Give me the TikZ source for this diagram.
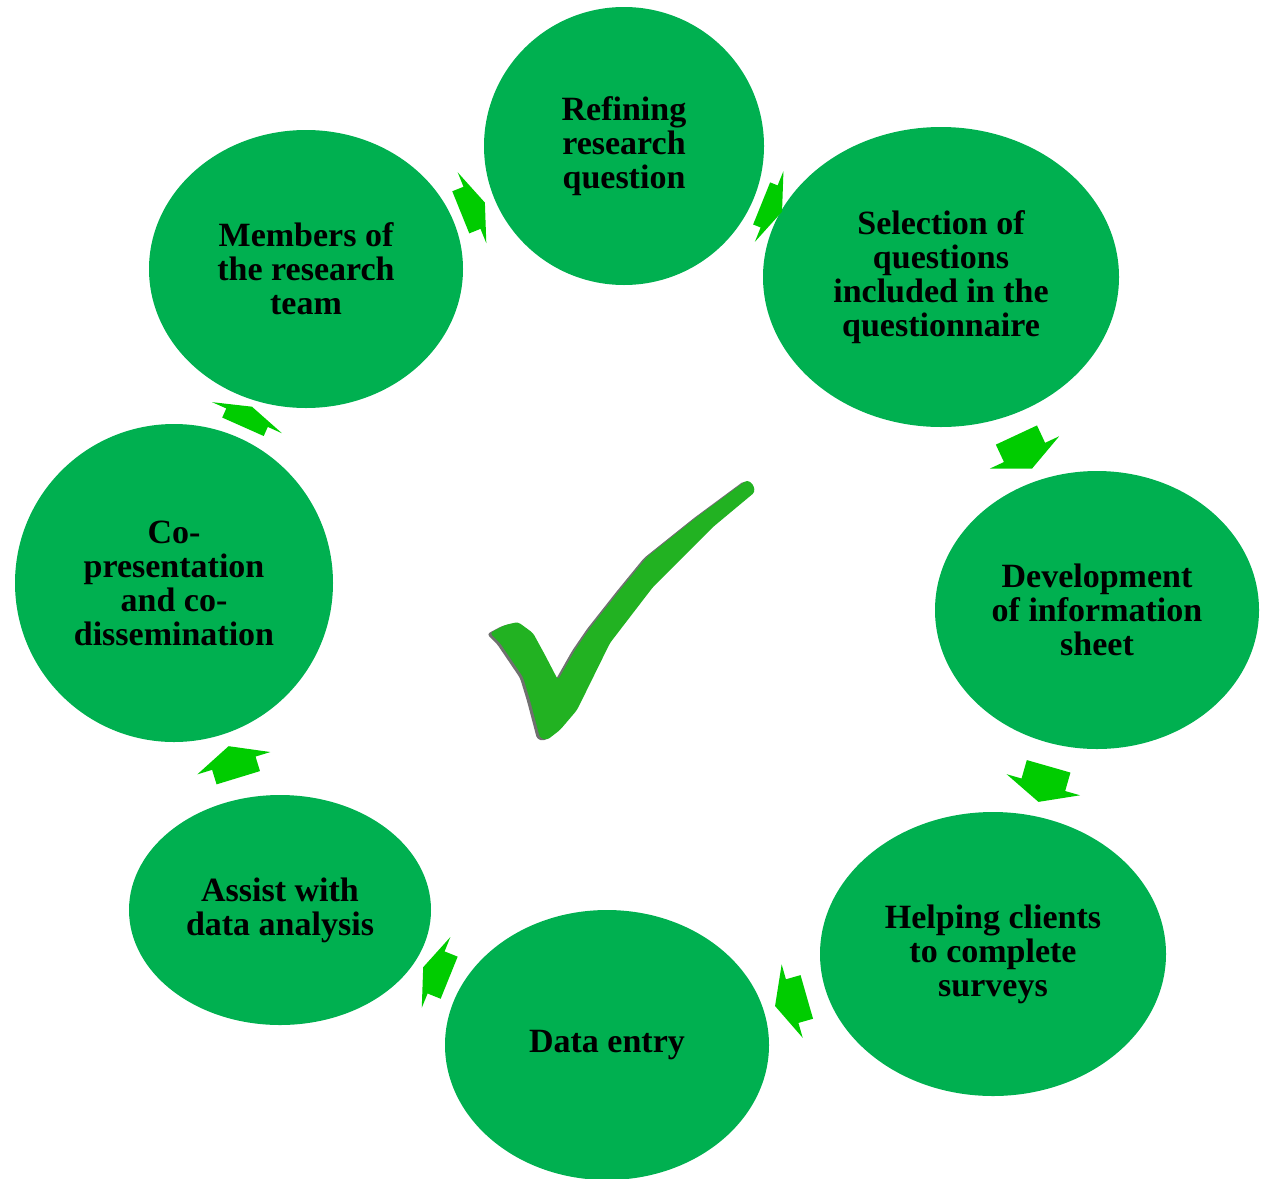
\documentclass[tikz,border=0pt]{standalone}
\usepackage{fontspec}
\setmainfont{Liberation Serif}
\usetikzlibrary{shapes.geometric, shapes.arrows}

\definecolor{stagegreen}{RGB}{0,176,80}
\definecolor{flowgreen}{RGB}{0,204,0}
\definecolor{tickgreen}{RGB}{34,178,34}

\begin{document}
\begin{tikzpicture}[
  x=1pt, y=-1pt,
  stage/.style={ellipse, fill=stagegreen, inner sep=0pt, align=center,
                font=\fontsize{34}{34}\selectfont\bfseries},
  flow/.style={single arrow, fill=flowgreen, inner sep=0pt, text height=45pt,
               text depth=0pt, minimum width=76pt,
               single arrow head extend=15.5pt, single arrow tip angle=130}
]
\useasboundingbox (0,0) rectangle (1268,1178);

% stages of the cycle
\node[stage, minimum width=280pt, minimum height=278pt] (refine) at (624,146) {Refining\\research\\question};
\node[stage, minimum width=356pt, minimum height=300pt] (select) at (941,277) {Selection of\\questions\\included in the\\questionnaire};
\node[stage, minimum width=324pt, minimum height=278pt] (sheet) at (1097,610) {Development\\of information\\sheet};
\node[stage, minimum width=346pt, minimum height=284pt] (help) at (993,954) {Helping clients\\to complete\\surveys};
\node[stage, minimum width=324pt, minimum height=270pt] (entry) at (607,1045) {Data entry};
\node[stage, minimum width=302pt, minimum height=230pt] (assist) at (280,910) {Assist with\\data analysis};
\node[stage, minimum width=318pt, minimum height=318pt] (copres) at (174,583) {Co-\\presentation\\and co-\\dissemination};
\node[stage, minimum width=314pt, minimum height=278pt] (members) at (306,269) {Members of\\the research\\team};

% block arrows between stages
\node[flow, minimum height=26pt, rotate=22, single arrow tip angle=140] (a1) at (469,209) {};
\node[flow, minimum height=22pt, rotate=-22, minimum width=74pt, single arrow tip angle=140] (a2) at (768,206) {};
\node[flow, minimum height=37pt, rotate=-65] (a3) at (1022,447) {};
\node[flow, minimum height=37pt, rotate=-106] (a4) at (1045,779) {};
\node[flow, minimum height=33pt, rotate=196] (a5) at (796,1000) {};
\node[flow, minimum height=28pt, rotate=158, single arrow tip angle=140] (a6) at (440,974) {};
\node[flow, minimum height=33pt, rotate=107] (a7) at (235,767) {};
\node[flow, minimum height=22pt, rotate=66, single arrow tip angle=145] (a8) at (246,420) {};

% tick in the middle
\fill[black!80, opacity=0.7, rounded corners=3pt, shift={(-3,1)}]
  (490,633) -- (505,625) -- (518,622) -- (533,633) -- (545,655) -- (558,680)
  -- (575,650) -- (590,628) -- (620,590) -- (647,557) -- (697,517) -- (747,480)
  -- (753,484) -- (755,492) -- (713,527) -- (653,587) -- (610,643) -- (577,710)
  -- (560,730) -- (547,740) -- (540,738) -- (530,700) -- (523,677) -- (500,643) -- cycle;
\fill[tickgreen, rounded corners=3pt]
  (490,633) -- (505,625) -- (518,622) -- (533,633) -- (545,655) -- (558,680)
  -- (575,650) -- (590,628) -- (620,590) -- (647,557) -- (697,517) -- (747,480)
  -- (753,484) -- (755,492) -- (713,527) -- (653,587) -- (610,643) -- (577,710)
  -- (560,730) -- (547,740) -- (540,738) -- (530,700) -- (523,677) -- (500,643) -- cycle;
\end{tikzpicture}
\end{document}
